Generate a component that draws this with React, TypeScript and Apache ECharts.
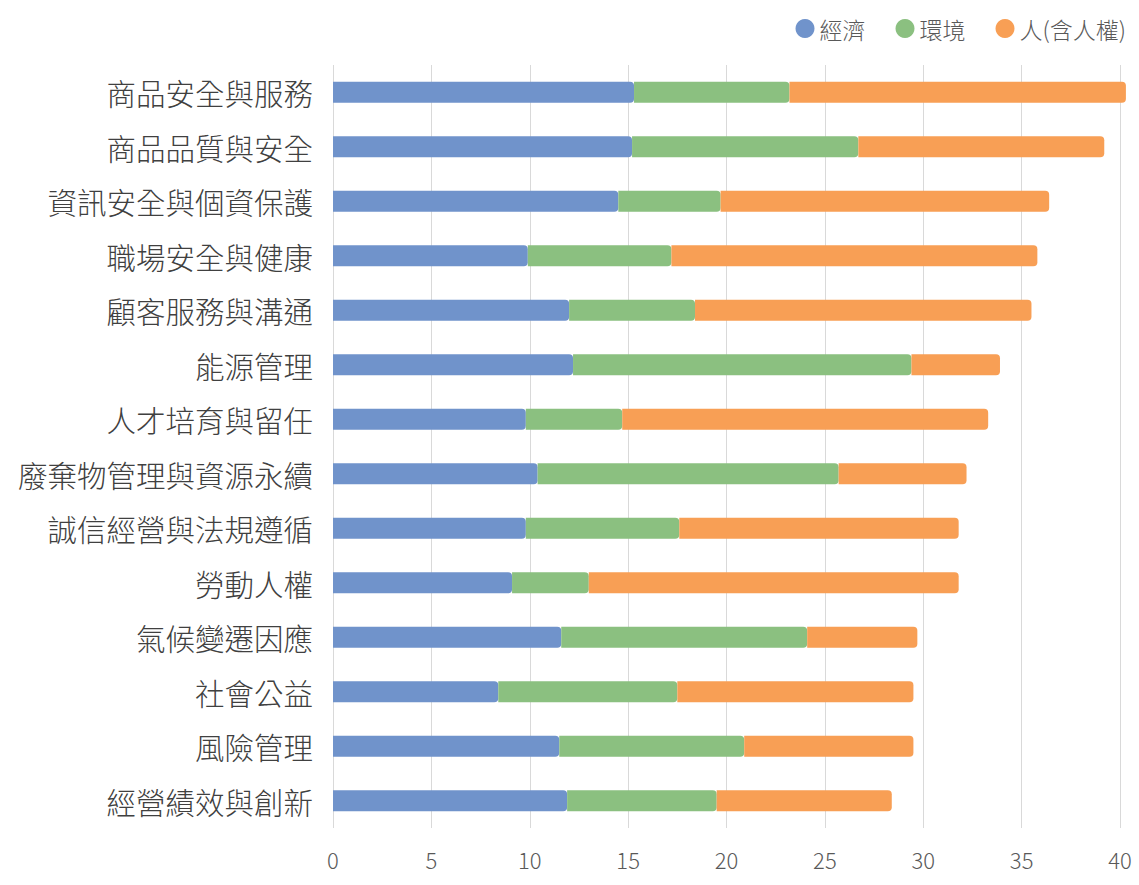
import React, { useEffect, useRef } from "react";
import * as echarts from "echarts";

const categories = [
  "商品安全與服務",
  "商品品質與安全",
  "資訊安全與個資保護",
  "職場安全與健康",
  "顧客服務與溝通",
  "能源管理",
  "人才培育與留任",
  "廢棄物管理與資源永續",
  "誠信經營與法規遵循",
  "勞動人權",
  "氣候變遷因應",
  "社會公益",
  "風險管理",
  "經營績效與創新",
];

const economy = [15.3, 15.2, 14.5, 9.9, 12.0, 12.2, 9.8, 10.4, 9.8, 9.1, 11.6, 8.4, 11.5, 11.9];
const environment = [7.9, 11.5, 5.2, 7.3, 6.4, 17.2, 4.9, 15.3, 7.8, 3.9, 12.5, 9.1, 9.4, 7.6];
const people = [17.1, 12.5, 16.7, 18.6, 17.1, 4.5, 18.6, 6.5, 14.2, 18.8, 5.6, 12.0, 8.6, 8.9];

const seriesNames = ["經濟", "環境", "人(含人權)"];
const colors = ["#7093CB", "#8BC080", "#F89F55"];

const FONT = '"Noto Sans CJK TC", "Noto Sans", sans-serif';

export default function App() {
  const ref = useRef<HTMLDivElement>(null);
  useEffect(() => {
    if (!ref.current) return;
    const chart = echarts.init(ref.current, undefined, { renderer: "svg" });
    const datasets = [economy, environment, people];
    chart.setOption({
      animation: false,
      backgroundColor: "#ffffff",
      textStyle: { fontFamily: FONT },
      legend: {
        data: seriesNames.map((n) => ({ name: n, icon: "circle" })),
        right: 8,
        top: 12,
        itemWidth: 19,
        itemHeight: 19,
        itemGap: 30,
        textStyle: { fontFamily: FONT, fontSize: 23, color: "#595959", fontWeight: 300 },
      },
      grid: { left: 333, right: 19, top: 65, bottom: 57, containLabel: false },
      xAxis: {
        type: "value",
        min: 0,
        max: 40,
        interval: 5,
        axisLine: { show: false },
        axisTick: { show: false },
        splitLine: { show: true, lineStyle: { color: "#D9D9D9", width: 1 } },
        axisLabel: { fontFamily: FONT, fontSize: 22, color: "#595959", margin: 20, fontWeight: 300 },
      },
      yAxis: {
        type: "category",
        data: categories,
        inverse: true,
        axisLine: { show: false },
        axisTick: { show: false },
        axisLabel: { fontFamily: FONT, fontSize: 29.5, color: "#404040", margin: 20, fontWeight: 300 },
      },
      series: datasets.map((d, i) => ({
        name: seriesNames[i],
        type: "bar",
        stack: "total",
        barWidth: 21,
        clip: false,
        data: d,
        itemStyle: { color: colors[i], borderRadius: [0, 4, 4, 0] },
      })),
    });
    return () => chart.dispose();
  }, []);
  return (
    <div
      ref={ref}
      style={{ position: "fixed", left: 0, top: 0, width: 1139, height: 885 }}
    />
  );
}
